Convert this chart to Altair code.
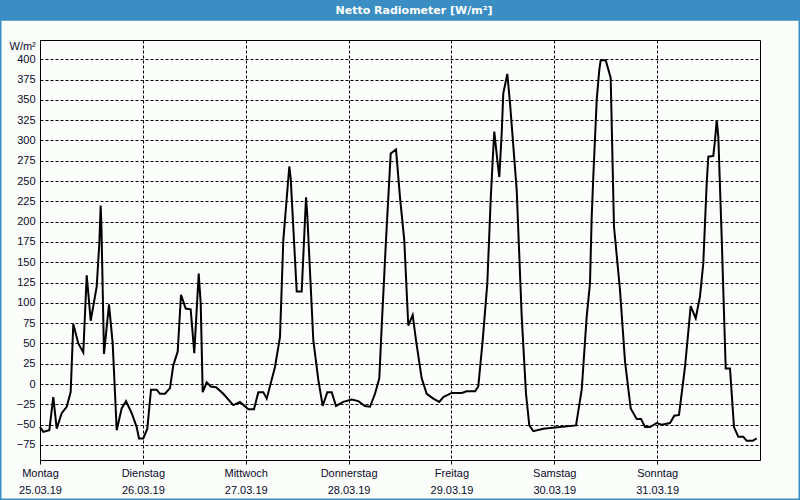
import json
import altair as alt
import pandas as pd

TITLE = "Netto Radiometer [W/m²]"
UNIT = "W/m²"
day_names = ["Montag", "Dienstag", "Mittwoch", "Donnerstag", "Freitag", "Samstag", "Sonntag"]
day_dates = ["25.03.19", "26.03.19", "27.03.19", "28.03.19", "29.03.19", "30.03.19", "31.03.19"]
y_ticks = list(range(-75, 401, 25))

# hours since Monday 25.03.19 00:00
hours = [0.0, 0.77, 2.17, 3.1, 3.9, 5.06, 6.23, 7.16, 7.77, 8.94, 10.1, 10.9, 11.83, 13.23, 13.84,
         14.16, 14.35, 14.93, 16.1, 16.96, 17.9, 19.06, 20.07, 21.4, 22.56, 23.1, 24.1, 25.04, 25.9,
         27.23, 28.0, 29.17, 30.33, 31.1, 32.13, 32.9, 34.0, 35.16, 36.0, 37.03, 37.5, 37.96, 38.9,
         39.83, 41.07, 42.77, 45.1, 46.67, 48.6, 49.93, 50.94, 52.1, 52.9, 54.83, 56.0, 56.77, 58.17,
         58.5, 59.9, 61.06, 62.07, 62.37, 63.77, 64.94, 65.96, 67.04, 68.06, 69.07, 70.77, 72.73,
         74.27, 75.83, 77.0, 78.17, 79.17, 79.73, 80.73, 81.83, 83.07, 84.0, 85.0, 85.93, 86.96,
         87.73, 89.06, 90.23, 91.77, 93.17, 94.1, 96.06, 98.4, 99.56, 101.5, 102.27, 103.3, 104.37,
         105.16, 105.63, 106.0, 106.7, 107.17, 107.73, 108.1, 109.04, 109.67, 111.23, 112.4, 113.4,
         114.17, 115.1, 117.44, 121.33, 125.07, 126.4, 127.56, 128.33, 128.73, 129.1, 129.9, 130.5,
         130.83, 132.0, 133.16, 133.93, 135.33, 136.5, 137.83, 139.23, 140.23, 141.17, 142.33, 143.9,
         145.06, 147.0, 148.0, 149.1, 150.5, 151.83, 153.0, 154.0, 154.77, 155.56, 155.94, 157.1,
         157.5, 157.9, 158.27, 159.06, 159.6, 160.0, 161.0, 161.93, 162.94, 164.1, 164.9, 166.3, 167.23]
values = [-53, -59, -57, -16, -55, -36, -28, -10, 74, 50, 39, 134, 78, 120, 173,
          220, 190, 37, 98, 50, -57, -30, -21, -36, -53, -67, -67, -55, -7,
          -7, -12, -12, -5, 23, 40, 110, 93, 92, 38, 136, 99, -10, 2,
          -3, -4, -12, -26, -22, -31, -31, -10, -10, -18, 21, 58, 177, 268,
          253, 114, 114, 230, 208, 54, 5, -27, -10, -10, -27, -22, -19,
          -21, -27, -28, -12, 7, 71, 177, 284, 289, 230, 177, 72, 85,
          54, 7, -12, -18, -22, -16, -11, -11, -9, -9, -3, 54, 124,
          227, 276, 311, 276, 255, 309, 358, 382, 346, 239, 83, -12,
          -51, -58, -55, -53, -51, -7, 83, 124, 206, 255, 350, 387,
          399, 399, 377, 194, 116, 28, -30, -43, -43, -53, -53, -48,
          -50, -48, -39, -38, 21, 96, 81, 108, 149, 247, 280, 281,
          300, 325, 305, 181, 87, 19, 19, -53, -65, -65, -70, -70, -67]

df = pd.DataFrame({"h": hours, "v": values})

BLUE = "#3b8ec3"
TXT = "#0a0a2a"
FONT = "Liberation Sans"

label_expr = f"[{json.dumps(day_names)}[round(datum.value/24)], {json.dumps(day_dates)}[round(datum.value/24)]]"

one = alt.Data(values=[{"a": 1}])

title_bar = alt.Chart(one).mark_rect(color=BLUE).encode(
    x=alt.value(-40), x2=alt.value(760), y=alt.value(-40), y2=alt.value(-19.3)
)
border = alt.Chart(one).mark_rect(fillOpacity=0, stroke=BLUE, strokeWidth=3).encode(
    x=alt.value(-40), x2=alt.value(760), y=alt.value(-40), y2=alt.value(460)
)
title_text = alt.Chart(one).mark_text(
    font="DejaVu Sans", fontWeight="bold", fontSize=11, color="white",
    align="center", baseline="middle"
).encode(x=alt.value(374), y=alt.value(-29.5), text=alt.value(TITLE))

line = alt.Chart(df).mark_line(color="black", strokeWidth=2, strokeJoin="miter").encode(
    x=alt.X("h:Q", scale=alt.Scale(domain=[0, 168], nice=False, zero=False),
            axis=alt.Axis(values=[0, 24, 48, 72, 96, 120, 144], grid=True, gridDash=[3, 2],
                          gridColor="black", gridOpacity=1, gridWidth=1, domain=False,
                          ticks=True, tickSize=4, tickColor="black", tickWidth=1,
                          labelExpr=label_expr, labelFlush=False, labelOverlap=False,
                          labelAlign="center", labelBaseline="top", labelLineHeight=17,
                          labelPadding=3, labelFont=FONT, labelFontSize=11, labelColor=TXT,
                          title=None)),
    y=alt.Y("v:Q", scale=alt.Scale(domain=[-93.6, 423.8], nice=False, zero=False),
            axis=alt.Axis(values=y_ticks, grid=True, gridDash=[3, 2], gridColor="black",
                          gridOpacity=1, gridWidth=1, domain=False, ticks=False,
                          labelPadding=5, labelFont=FONT, labelFontSize=11, labelColor=TXT,
                          title=UNIT, titleAngle=0, titleX=-31, titleY=6, titleAlign="left",
                          titleBaseline="middle", titleFont=FONT, titleFontSize=11,
                          titleFontWeight="normal", titleColor=TXT)),
)

chart = alt.layer(title_bar, border, title_text, line).properties(
    width=720, height=420,
    padding={"left": 40, "top": 40, "right": 40, "bottom": 40},
    autosize=alt.AutoSizeParams(type="none"),
    background="#fbfdfb",
).configure_view(stroke="black", strokeWidth=1)

chart.save("out.html", embed_options={"renderer": "svg", "actions": False})
